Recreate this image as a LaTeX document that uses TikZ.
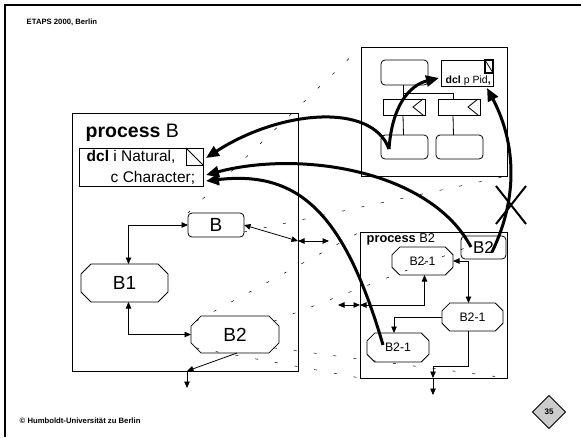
\documentclass[tikz,border=0pt]{standalone}
\usepackage{fontspec}
\setmainfont{Liberation Sans}
\usetikzlibrary{arrows.meta,shapes.misc,shapes.geometric}

\begin{document}
\begin{tikzpicture}[x=1pt, y=-1pt, line width=0.8pt,
    box/.style={draw, inner sep=0pt, outer sep=0pt},
    state/.style={box, rounded corners=4pt},
    octa/.style={box, chamfered rectangle, chamfered rectangle xsep=7pt},
    flow/.style={-{Triangle[length=6.5pt,width=5.5pt]}},
    flows/.style={{Triangle[length=6.5pt,width=5.5pt]}-{Triangle[length=6.5pt,width=5.5pt]}},
    ref/.style={line width=3pt, -{Triangle[length=13pt,width=11pt]}},
    zoomline/.style={line width=0.5pt, dash pattern=on 3pt off 17pt}]
  \useasboundingbox (0,0) rectangle (581,437);

  % slide frame
  \draw[line width=2pt] (5,437) -- (5,5) -- (581,5);
  \node[anchor=base west, font=\fontsize{7.7}{8}\selectfont\bfseries] (conf) at (23,24) {ETAPS 2000, Berlin};
  \node[anchor=base west, font=\fontsize{7.7}{8}\selectfont\bfseries] (copy) at (16,423) {© Humboldt-Universität zu Berlin};
  \node[box, diamond, fill=black!20, minimum size=33pt, font=\fontsize{8}{8}\selectfont\bfseries] (page) at (549,412) {35};

  % process B
  \node[box, minimum width=226pt, minimum height=258pt] (procB) at (185,242) {};
  \node[anchor=base west, font=\fontsize{19.5}{20}\selectfont] (procBt) at (82,137) {\textbf{process} B};
  \node[box, minimum width=124pt, minimum height=38pt] (dcl) at (141,167) {};
  \node[box, minimum size=17pt] (dclsq) at (194.5,156.5) {};
  \draw (dclsq.north west) -- (dclsq.south east);
  \node[anchor=base west, font=\fontsize{15.5}{16}\selectfont] (dcl1) at (83,161) {\textbf{dcl} i Natural,};
  \node[anchor=base west, font=\fontsize{15.5}{16}\selectfont] (dcl2) at (107,182) {c Character;};

  \node[state, minimum width=56pt, minimum height=24pt, font=\fontsize{19}{19}\selectfont] (B) at (216,225) {B};
  \node[octa, minimum width=87pt, minimum height=38pt, font=\fontsize{19}{19}\selectfont] (B1) at (124.5,283) {B1};
  \node[octa, minimum width=88pt, minimum height=37pt, font=\fontsize{19}{19}\selectfont] (B2) at (235,334.5) {B2};

  \coordinate (gateB) at (298,241);
  \coordinate (gateBo) at (329,241);
  \coordinate (outB) at (187,371);
  \coordinate (outBo) at (187,388);
  \draw[flows] (B.west) -| ([xshift=4pt]B1.north);
  \draw[flows] ([xshift=4pt]B1.south) |- (B2.west);
  \draw[flow] ([xshift=2pt]B2.south) -- (outB);
  \draw[flow] (outB) -- (outBo);
  \draw[flows] (B.east) -- (gateB);
  \draw[flows] (gateB) -- (gateBo);

  % process B2
  \node[box, minimum width=147pt, minimum height=146pt] (procB2) at (433.5,305) {};
  \node[anchor=base west, font=\fontsize{12.8}{13}\selectfont] (procB2t) at (363,242) {\textbf{process} B2};
  \node[state, minimum width=45pt, minimum height=23pt, font=\fontsize{17}{17}\selectfont] (B2s) at (483.5,247.5) {B2};
  \node[octa, minimum width=61pt, minimum height=28pt, font=\fontsize{12.3}{12}\selectfont] (B21a) at (422.5,261) {B2-1};
  \node[octa, minimum width=61pt, minimum height=28pt, font=\fontsize{12.3}{12}\selectfont] (B21b) at (472.5,317) {B2-1};
  \node[octa, minimum width=62pt, minimum height=29pt, font=\fontsize{12.3}{12}\selectfont] (B21c) at (398,347.5) {B2-1};

  \coordinate (gateB2) at (360,305);
  \coordinate (gateB2o) at (338,305);
  \coordinate (turnB2) at (433,366);
  \coordinate (outB2) at (433,378);
  \coordinate (outB2o) at (433,395);
  \draw[flows] (B21a.east) -| ([xshift=-4pt]B21b.north);
  \draw[flows] ([xshift=2pt]B21a.south) |- (gateB2);
  \draw[flows] (gateB2o) -- (gateB2);
  \draw[flow] (B21b.west) -| ([xshift=-4pt]B21c.north);
  \draw[flow] ([xshift=-4pt]B21b.south) |- (turnB2) -- (outB2);
  \draw[flow] (outB2) -- (outB2o);

  % enclosing block
  \node[box, minimum width=146pt, minimum height=129pt] (blk) at (434,111.5) {};
  \node[state, minimum width=47pt, minimum height=25pt] (stA) at (404.5,72.5) {};
  \node[box, minimum width=52pt, minimum height=26pt] (pdcl) at (467,73) {};
  \node[box, minimum width=8pt, minimum height=13pt, line width=1.4pt] (pdclsq) at (489,66.5) {};
  \draw (pdclsq.north west) -- (pdclsq.south east);
  \node[anchor=base west, font=\fontsize{10.5}{11}\selectfont] (pdclt) at (442,83) {\textbf{dcl} p Pid\textbf{,}};
  \node[box, minimum width=42pt, minimum height=16pt] (sigL) at (404,107) {};
  \node[box, minimum width=42pt, minimum height=16pt] (sigR) at (459,107) {};
  \draw ([xshift=-2pt]sigL.north east) -- ([xshift=-12pt]sigL.east) -- ([xshift=-2pt]sigL.south east);
  \draw ([xshift=-2pt]sigR.north east) -- ([xshift=-12pt]sigR.east) -- ([xshift=-2pt]sigR.south east);
  \node[state, minimum width=47pt, minimum height=24pt] (stC) at (404.5,147) {};
  \node[state, minimum width=47pt, minimum height=24pt] (stD) at (459.5,147) {};
  \coordinate (fork) at (403,93);
  \coordinate (forkR) at (453,93);
  \draw ([xshift=-1.5pt]stA.south) -- (fork) -- (forkR) -- (forkR |- sigR.north);
  \draw (fork) -- (fork |- sigL.north);
  \draw ([xshift=-1pt]sigL.south) -- ([xshift=-1pt]stC.north);
  \draw ([xshift=-6pt]sigR.south) -- ([xshift=-6pt]stD.north);

  % zoom lines
  \coordinate (Bcorner) at (244,232);
  \draw[zoomline] (B.north west) -- (blk.north west);
  \draw[zoomline] (Bcorner) -- (blk.south east);
  \draw[zoomline] (B2.north west) -- (procB2.north west);
  \draw[zoomline] (B2.north east) -- (procB2.north east);
  \draw[zoomline] (B2.south west) -- (procB2.south west);
  \draw[zoomline] (B2.south east) -- (procB2.south east);

  % references to declarations
  \coordinate (useC) at (389,149);
  \coordinate (useB2) at (471,247);
  \coordinate (useB2x) at (492,252);
  \coordinate (useB21) at (383,345);
  \coordinate (tipN) at (206,158);
  \coordinate (tipC1) at (206,175);
  \coordinate (tipC2) at (206,181);
  \coordinate (tipP) at (439,78);
  \coordinate (tipPx) at (487,88);
  \draw[ref] (useC) .. controls (372,102) and (280,110) .. (tipN);
  \draw[ref] (useC) .. controls (392,105) and (410,85) .. (tipP);
  \draw[ref] (useB2) .. controls (430,170) and (300,150) .. (tipC1);
  \draw[ref] (useB21) .. controls (345,215) and (300,170) .. (tipC2);
  \draw[ref] (useB2x) .. controls (522,190) and (512,135) .. (tipPx);

  % not allowed
  \draw[line width=2pt] (496,186) -- (526,224);
  \draw[line width=2pt] (526,186) -- (496,224);
\end{tikzpicture}
\end{document}
